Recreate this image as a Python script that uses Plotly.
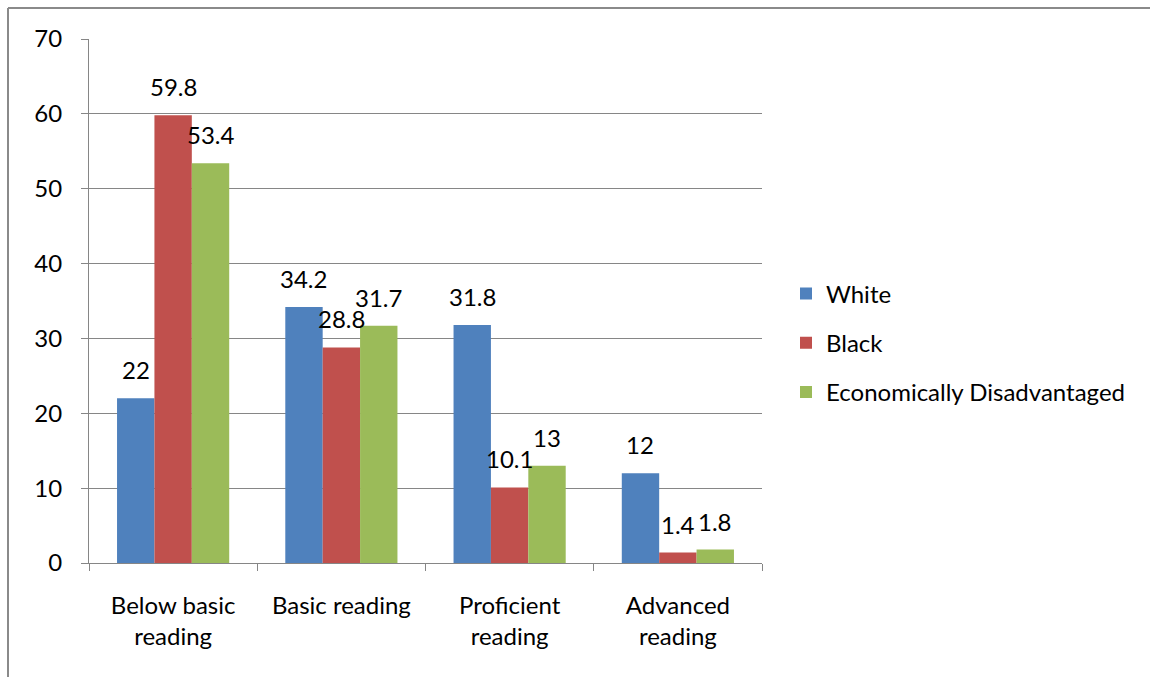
import plotly.graph_objects as go

categories = ["Below basic<br>reading", "Basic reading", "Proficient<br>reading", "Advanced<br>reading"]
white = [22, 34.2, 31.8, 12]
black = [59.8, 28.8, 10.1, 1.4]
econ = [53.4, 31.7, 13, 1.8]
series_names = ["White", "Black", "Economically Disadvantaged"]
colors = ["#4F81BD", "#C0504D", "#9BBB59"]

W, H = 1150, 677
L, R, T, B = 89, 388, 39, 114
font = "Lato, Carlito, Calibri, sans-serif"
FS = 24
BARGAP = 1.5 / 4.5

fig = go.Figure()
all_series = [white, black, econ]
n = len(all_series)
for i, (name, vals) in enumerate(zip(series_names, all_series)):
    fig.add_trace(go.Bar(
        x=categories, y=vals, name=name, marker_color=colors[i],
        marker_line_width=0, legendgroup=name,
    ))

# data labels positioned from category index and bar offsets in axis units
bw = (1 - BARGAP) / n
for i, vals in enumerate(all_series):
    for j, v in enumerate(vals):
        fig.add_annotation(
            x=j + (i - (n - 1) / 2) * bw, y=v, xref="x", yref="y",
            text=f"{v:g}", showarrow=False, yanchor="bottom", yshift=12,
            font=dict(size=FS, color="black", family=font),
        )

pw = W - L - R
ph = H - T - B
# chart border (top and left lines)
fig.add_shape(type="line", xref="paper", yref="paper",
              x0=(8 - L) / pw, x1=(W + 5 - L) / pw,
              y0=1 + (T - 8) / ph, y1=1 + (T - 8) / ph,
              line=dict(color="#8a8a8a", width=2))
fig.add_shape(type="line", xref="paper", yref="paper",
              x0=(8 - L) / pw, x1=(8 - L) / pw,
              y0=1 + (T - 8) / ph, y1=-(H - T - ph + 5) / ph,
              line=dict(color="#8a8a8a", width=2))

fig.update_layout(
    width=W, height=H,
    margin=dict(l=L, r=R, t=T, b=B, pad=0),
    paper_bgcolor="white", plot_bgcolor="white",
    barmode="group", bargap=BARGAP, bargroupgap=0,
    font=dict(family=font, size=FS, color="black"),
    showlegend=True,
    legend=dict(x=(786 - L) / pw, y=1 - (343 - T) / ph, xanchor="left", yanchor="middle",
                font=dict(size=FS, family=font), traceorder="grouped",
                tracegroupgap=15, itemwidth=30, bgcolor="rgba(0,0,0,0)"),
    xaxis=dict(showline=True, linecolor="#868686", linewidth=1,
               ticks="outside", tickson="boundaries", ticklen=7, tickcolor="#868686",
               tickfont=dict(size=FS, family=font), showgrid=False,
               ticklabelstandoff=21),
    yaxis=dict(range=[0, 70], dtick=10, showline=True, linecolor="#868686", linewidth=1,
               ticks="outside", ticklen=7, tickcolor="#868686",
               showgrid=True, gridcolor="#868686", gridwidth=1,
               tickfont=dict(size=FS, family=font), zeroline=False, ticklabelstandoff=14),
)

fig.write_html("out.html")
